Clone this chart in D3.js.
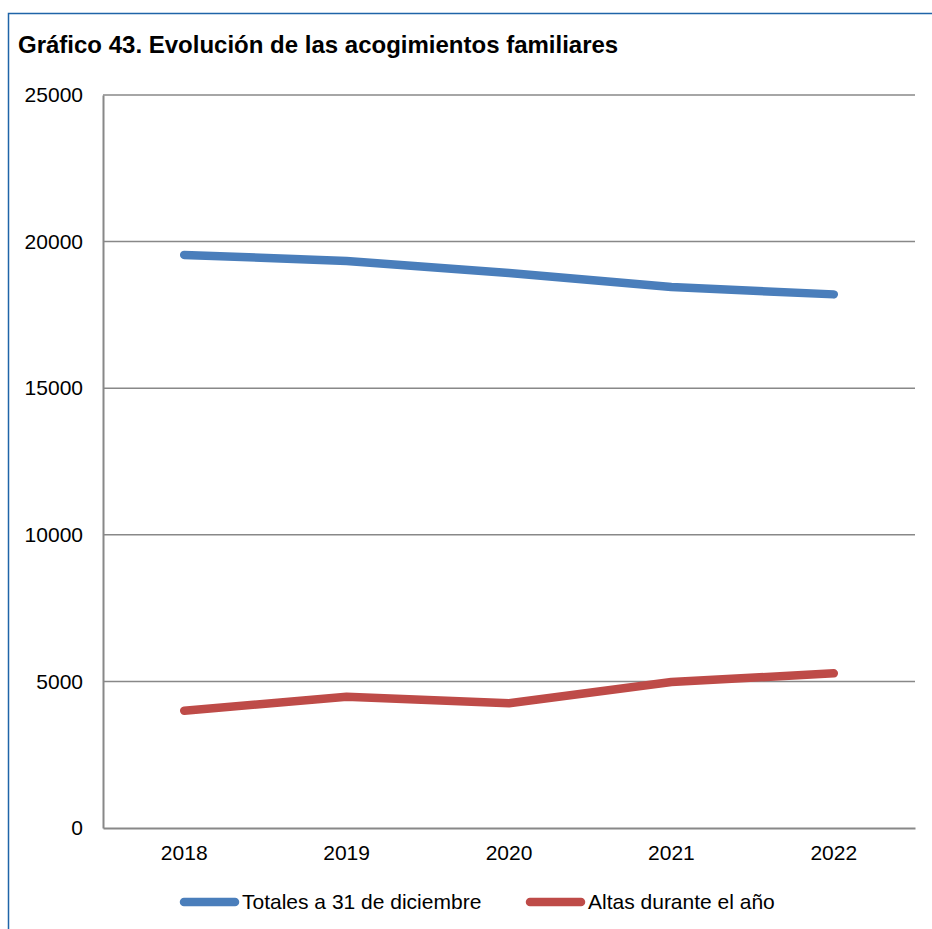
<!DOCTYPE html>
<html><head><meta charset="utf-8">
<script src="https://cdn.jsdelivr.net/npm/d3@7"></script>
<style>body{margin:0;background:#fff}svg{display:block}</style>
</head><body>
<script>
const categories = ["2018","2019","2020","2021","2022"];
const totales = [19545, 19340, 18930, 18450, 18200];
const altas = [4000, 4480, 4255, 4980, 5275];
const yTicks = [0, 5000, 10000, 15000, 20000, 25000];
const seriesNames = ["Totales a 31 de diciembre", "Altas durante el año"];
const colors = ["#4a7ebb", "#be4b48"];

const W = 932, H = 929;
const svg = d3.select("body").append("svg").attr("width", W).attr("height", H);
const font = "'Liberation Sans', Arial, sans-serif";

svg.append("rect").attr("x", 8.5).attr("y", 13.5).attr("width", 940).attr("height", 940)
  .attr("fill", "#fff").attr("stroke", "#1f64a8").attr("stroke-width", 1.5);

svg.append("text").attr("x", 18).attr("y", 53).attr("font-family", font)
  .attr("font-weight", "bold").attr("font-size", 24).attr("fill", "#000")
  .text("Gráfico 43. Evolución de las acogimientos familiares");

const pL = 103, pR = 915, pT = 95, pB = 828;
const x = d3.scaleBand().domain(categories).range([pL, pR]);
const y = d3.scaleLinear().domain([0, 25000]).range([pB, pT]);

const grid = svg.append("g");
grid.selectAll("line").data(yTicks.filter(d => d > 0)).join("line")
  .attr("x1", pL).attr("x2", pR).attr("y1", d => y(d)).attr("y2", d => y(d))
  .attr("stroke", "#888").attr("stroke-width", 1.5);

const yAxis = svg.append("g").attr("transform", `translate(${pL},0)`)
  .call(d3.axisLeft(y).tickValues(yTicks).tickSize(0).tickPadding(20).tickFormat(d3.format("d")));
yAxis.select(".domain").attr("stroke", "#888").attr("stroke-width", 2);
yAxis.selectAll("text").attr("font-family", font).attr("font-size", 21).attr("fill", "#000");

const xAxis = svg.append("g").attr("transform", `translate(0,${pB})`)
  .call(d3.axisBottom(x).tickSize(0).tickPadding(17));
xAxis.select(".domain").attr("stroke", "#888").attr("stroke-width", 2);
xAxis.selectAll("text").attr("font-family", font).attr("font-size", 21).attr("fill", "#000");

const line = d3.line().x((d, i) => x(categories[i]) + x.bandwidth() / 2).y(d => y(d));
[totales, altas].forEach((s, k) => {
  svg.append("path").attr("d", line(s)).attr("fill", "none").attr("stroke", colors[k])
    .attr("stroke-width", 8.5).attr("stroke-linecap", "round").attr("stroke-linejoin", "round");
});

const legendX = [181, 527];
seriesNames.forEach((n, k) => {
  const g = svg.append("g");
  g.append("line").attr("x1", legendX[k] + 3).attr("x2", legendX[k] + 54).attr("y1", 902).attr("y2", 902)
    .attr("stroke", colors[k]).attr("stroke-width", 8.5).attr("stroke-linecap", "round");
  g.append("text").attr("x", legendX[k] + 61).attr("y", 909).attr("font-family", font)
    .attr("font-size", 21).attr("fill", "#000").text(n);
});
</script>
</body></html>
